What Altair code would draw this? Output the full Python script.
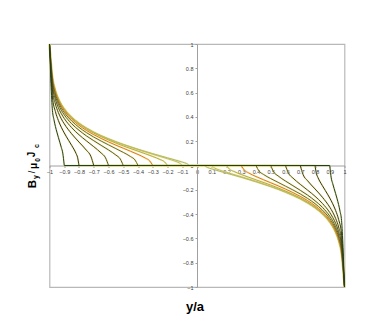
import altair as alt
import pandas as pd

# penetration depth of each curve (flat zero region |y/a| < b)
b_values = [0.9, 0.8, 0.7, 0.6, 0.5, 0.4, 0.3, 0.2, 0.1, 0.05]

pos_09 = [1.0, 0.98, 0.97, 0.96, 0.95, 0.94, 0.93, 0.92, 0.91, 0.9]
val_09 = [1.0, 0.452, 0.378, 0.322, 0.275, 0.232, 0.191, 0.149, 0.102, 0.0]

pos_08 = [1.0, 0.98, 0.96, 0.94, 0.92, 0.9, 0.87, 0.85, 0.82, 0.81, 0.8]
val_08 = [1.0, 0.563, 0.444, 0.371, 0.315, 0.268, 0.206, 0.166, 0.099, 0.068, 0.0]

pos_07 = [1.0, 0.98, 0.96, 0.94, 0.92, 0.9, 0.85, 0.8, 0.75, 0.72, 0.7]
val_07 = [1.0, 0.621, 0.506, 0.436, 0.384, 0.343, 0.261, 0.193, 0.126, 0.077, 0.0]

pos_06 = [1.0, 0.98, 0.96, 0.94, 0.92, 0.9, 0.85, 0.8, 0.75, 0.7, 0.65, 0.62, 0.6]
val_06 = [1.0, 0.659, 0.545, 0.476, 0.427, 0.387, 0.312, 0.253, 0.203, 0.155, 0.103, 0.063, 0.0]

pos_05 = [1.0, 0.98, 0.96, 0.94, 0.92, 0.9, 0.85, 0.8, 0.75, 0.7, 0.65, 0.6, 0.55, 0.52, 0.5]
val_05 = [1.0, 0.684, 0.571, 0.504, 0.455, 0.417, 0.344, 0.290, 0.244, 0.204, 0.166, 0.128, 0.086, 0.053, 0.0]

pos_04 = [1.0, 0.98, 0.96, 0.94, 0.92, 0.9, 0.85, 0.8, 0.75, 0.7, 0.65, 0.6, 0.55, 0.5, 0.45, 0.42, 0.4]
val_04 = [1.0, 0.703, 0.590, 0.524, 0.475, 0.437, 0.367, 0.314, 0.271, 0.234, 0.201, 0.170, 0.139, 0.108, 0.073, 0.045, 0.0]

pos_03 = [1.0, 0.98, 0.96, 0.94, 0.92, 0.9, 0.85, 0.8, 0.75, 0.7, 0.6, 0.5, 0.45, 0.4, 0.35, 0.32, 0.3]
val_03 = [1.0, 0.716, 0.604, 0.537, 0.489, 0.452, 0.382, 0.331, 0.289, 0.254, 0.194, 0.142, 0.117, 0.091, 0.061, 0.037, 0.0]

pos_02 = [1.0, 0.98, 0.96, 0.94, 0.92, 0.9, 0.85, 0.8, 0.75, 0.7, 0.6, 0.5, 0.4, 0.3, 0.25, 0.22, 0.2]
val_02 = [1.0, 0.725, 0.613, 0.546, 0.499, 0.461, 0.392, 0.342, 0.301, 0.267, 0.210, 0.161, 0.118, 0.074, 0.049, 0.030, 0.0]

pos_01 = [1.0, 0.98, 0.96, 0.94, 0.92, 0.9, 0.85, 0.8, 0.75, 0.7, 0.6, 0.5, 0.4, 0.3, 0.2, 0.15, 0.12, 0.1]
val_01 = [1.0, 0.730, 0.618, 0.552, 0.504, 0.467, 0.398, 0.348, 0.308, 0.274, 0.218, 0.172, 0.131, 0.093, 0.056, 0.036, 0.021, 0.0]

pos_005 = [1.0, 0.98, 0.96, 0.94, 0.92, 0.9, 0.85, 0.8, 0.75, 0.7, 0.6, 0.5, 0.4, 0.3, 0.2, 0.1, 0.07, 0.05]
val_005 = [1.0, 0.731, 0.619, 0.553, 0.505, 0.468, 0.399, 0.349, 0.309, 0.275, 0.220, 0.174, 0.134, 0.097, 0.063, 0.028, 0.016, 0.0]

curve_pos = [pos_09, pos_08, pos_07, pos_06, pos_05, pos_04, pos_03, pos_02, pos_01, pos_005]
curve_val = [val_09, val_08, val_07, val_06, val_05, val_04, val_03, val_02, val_01, val_005]
core_colors = ["#1f4020", "#3a3a16", "#46461a", "#52521e", "#5e5e22", "#6c6c28",
               "#e07818", "#b4ac44", "#c4bc5a", "#a8b878"]

x_ticks = [-1, -0.9, -0.8, -0.7, -0.6, -0.5, -0.4, -0.3, -0.2, -0.1, 0,
           0.1, 0.2, 0.3, 0.4, 0.5, 0.6, 0.7, 0.8, 0.9, 1]
y_ticks = [-1, -0.8, -0.6, -0.4, -0.2, 0, 0.2, 0.4, 0.6, 0.8, 1]

ylabel_parts = [("B", 11.5, "bold", -17, 140), ("y", 7, "bold", -13.5, 133),
                ("/", 9, "normal", -17.5, 128), ("μ", 10, "bold", -16, 122),
                ("0", 6.5, "bold", -12, 116), ("J", 10, "bold", -17.5, 110.5),
                ("c", 7, "bold", -12.5, 102)]
xlabel_text = "y/a"

rows = []
keys = []
for b, pos, val in reversed(list(zip(b_values, curve_pos, curve_val))):
    key = f"b{b:.2f}"
    keys.append(key)
    for p, v in zip(pos, val):
        rows.append(dict(x=-p, B=v, curve=key, seg=key + "L"))
    for p, v in zip(pos, val):
        rows.append(dict(x=p, B=-v, curve=key, seg=key + "R"))
    rows.append(dict(x=-b, B=0.0, curve=key, seg=key + "F"))
    rows.append(dict(x=b, B=0.0, curve=key, seg=key + "F"))
df = pd.DataFrame(rows)

color_map = dict(zip([f"b{b:.2f}" for b in b_values], core_colors))

axis_common = dict(grid=False, domainColor="#a0a0a0", domainWidth=1, tickColor="#a0a0a0",
                   tickSize=2, labelFontSize=5.5, labelColor="#404040",
                   labelFont="Liberation Sans", labelPadding=2, labelFlush=False,
                   labelOverlap=False, title=None, format="~g")

x_enc = alt.X("x:Q", scale=alt.Scale(domain=[-1, 1], nice=False, zero=False),
              axis=alt.Axis(values=x_ticks, orient="bottom", offset=-121.5, **axis_common))
y_enc = alt.Y("B:Q", scale=alt.Scale(domain=[-1, 1], nice=False, zero=False),
              axis=alt.Axis(values=y_ticks, orient="left", offset=-147.5, **axis_common))

halo = alt.Chart(df).mark_line(strokeWidth=2.0, opacity=0.5, color="#ece28a",
                               interpolate="monotone").encode(
    x=x_enc, y=y_enc, detail="seg:N")

core = alt.Chart(df).mark_line(strokeWidth=1, interpolate="monotone").encode(
    x=x_enc, y=y_enc, detail="seg:N",
    color=alt.Color("curve:N", legend=None,
                    scale=alt.Scale(domain=keys, range=[color_map[k] for k in keys])))

layers = [halo, core]
for txt, size, weight, px, py in ylabel_parts:
    layers.append(
        alt.Chart(alt.Data(values=[{}])).mark_text(
            text=txt, fontSize=size, fontWeight=weight, font="Liberation Sans",
            angle=270, align="center", baseline="middle", color="#000000"
        ).encode(x=alt.value(px), y=alt.value(py))
    )
layers.append(
    alt.Chart(alt.Data(values=[{}])).mark_text(
        text=xlabel_text, fontSize=13, fontWeight="bold", font="Liberation Sans",
        align="center", baseline="middle", color="#000000"
    ).encode(x=alt.value(145.5), y=alt.value(263))
)

chart = alt.layer(*layers).properties(
    width=295, height=243,
    autosize=alt.AutoSizeParams(type="none"),
    padding={"left": 41.5, "top": 36, "right": 20, "bottom": 30},
    background="white",
).configure_view(stroke="#b8b8b8", strokeWidth=1.2)

chart.save("out.html", embed_options={"renderer": "svg", "actions": False})
